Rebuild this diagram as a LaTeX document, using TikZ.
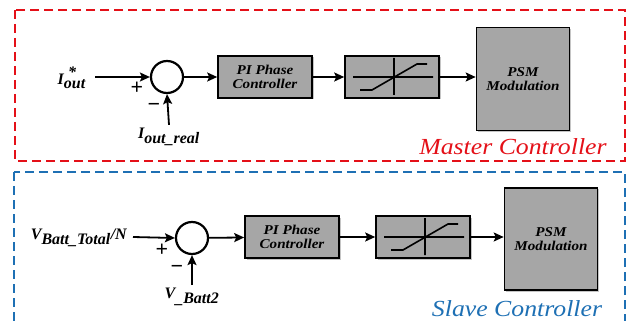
\documentclass[tikz,border=0pt]{standalone}
\usepackage{fontspec}
\setmainfont{Liberation Serif}
\newfontfamily\widefont{Liberation Serif}[FakeStretch=1.12]
\usetikzlibrary{arrows.meta,shadows}
\definecolor{mred}{RGB}{228,16,24}
\definecolor{sblue}{RGB}{30,112,180}
\definecolor{boxgray}{RGB}{166,166,166}
\newcommand{\bi}[1]{\textbf{\textit{#1}}}
\begin{document}
\begin{tikzpicture}[x=1pt,y=-1pt,
  blk/.style={draw,line width=1.6pt,fill=boxgray,minimum width=94pt,minimum height=42pt,
    inner sep=0pt,align=center,font=\widefont\fontsize{13.5}{14.5}\selectfont\bfseries\itshape,
    drop shadow={shadow xshift=1.5pt,shadow yshift=-1.5pt,fill=black!45,opacity=.5}},
  sum/.style={draw,circle,line width=2.2pt,minimum size=32pt,inner sep=0pt},
  arr/.style={-{Stealth[length=10pt,width=9pt,inset=2pt]},line width=1.8pt},
  lbl/.style={font=\fontsize{16}{17}\selectfont\bfseries\itshape,inner sep=0pt},
  sgn/.style={font=\fontsize{22}{22}\selectfont\bfseries,inner sep=0pt},
  ttl/.style={font=\widefont\fontsize{23}{25}\selectfont\itshape,inner sep=0pt,anchor=base}]
  \useasboundingbox (0,0) rectangle (633,321);
  \draw[mred,line width=2.2pt,dash pattern=on 9pt off 5pt] (15,10) rectangle (625,161);
  \draw[sblue,line width=2.2pt,dash pattern=on 9pt off 5pt] (14,172) rectangle (625,334);

  \node[lbl,anchor=east] (iout) at (86,78) {$\bi{I}^{\mkern7mu\textbf{*}}_{\bi{out}}$};
  \node[sum] (sum1) at (167,77) {};
  \node[sgn] (plus1) at (137,88) {+};
  \node[sgn] (minus1) at (154,107) {\textminus};
  \node[lbl] (ifb) at (169,137) {$\bi{I}_{\bi{out\_real}}$};
  \node[blk] (pi1) at (265,77) {PI Phase\\Controller};
  \node[blk] (sat1) at (392,77) {};
  \node[blk,minimum width=93pt,minimum height=103pt] (psm1) at (523,79) {PSM\\Modulation};
  \node[ttl,text=mred] (mt) at (513,155) {Master Controller};
  \draw[arr] (iout.east) ++(9,-1) coordinate (in1) -- (sum1.west);
  \draw[arr] (ifb.north) ++(0,-3) coordinate (fb1) -- (sum1.south);
  \draw[arr] (sum1) -- (pi1);
  \draw[arr] (pi1) -- (sat1);
  \draw[arr] (sat1) -- (psm1.west |- sat1);

  \node[lbl,anchor=east] (vin) at (127,238) {$\bi{V}_{\bi{Batt\_Total}}\bi{/N}$};
  \node[sum] (sum2) at (192,238) {};
  \node[sgn] (plus2) at (162,250) {+};
  \node[sgn] (minus2) at (177,269) {\textminus};
  \node[lbl] (vfb) at (192,297) {$\bi{V}_{\bi{\_Batt2}}$};
  \node[blk] (pi2) at (292,237) {PI Phase\\Controller};
  \node[blk] (sat2) at (423,237) {};
  \node[blk,minimum width=93pt,minimum height=102pt] (psm2) at (551,239) {PSM\\Modulation};
  \node[ttl,text=sblue] (st) at (517,316) {Slave Controller};
  \draw[arr] (vin.east) ++(6,-1) coordinate (in2) -- (sum2.west);
  \draw[arr] (vfb.north) ++(0,-3) coordinate (fb2) -- (sum2.south);
  \draw[arr] (sum2) -- (pi2);
  \draw[arr] (pi2) -- (sat2);
  \draw[arr] (sat2) -- (psm2.west |- sat2);

  \foreach \s in {sat1,sat2}
    \draw[line width=1.6pt,shift={(\s.center)}] (-39,0) -- (41,0) (2,-19) -- (2,18)
      (-32,13) -- (-20,13) -- (25,-13) -- (35,-13);
\end{tikzpicture}
\end{document}
